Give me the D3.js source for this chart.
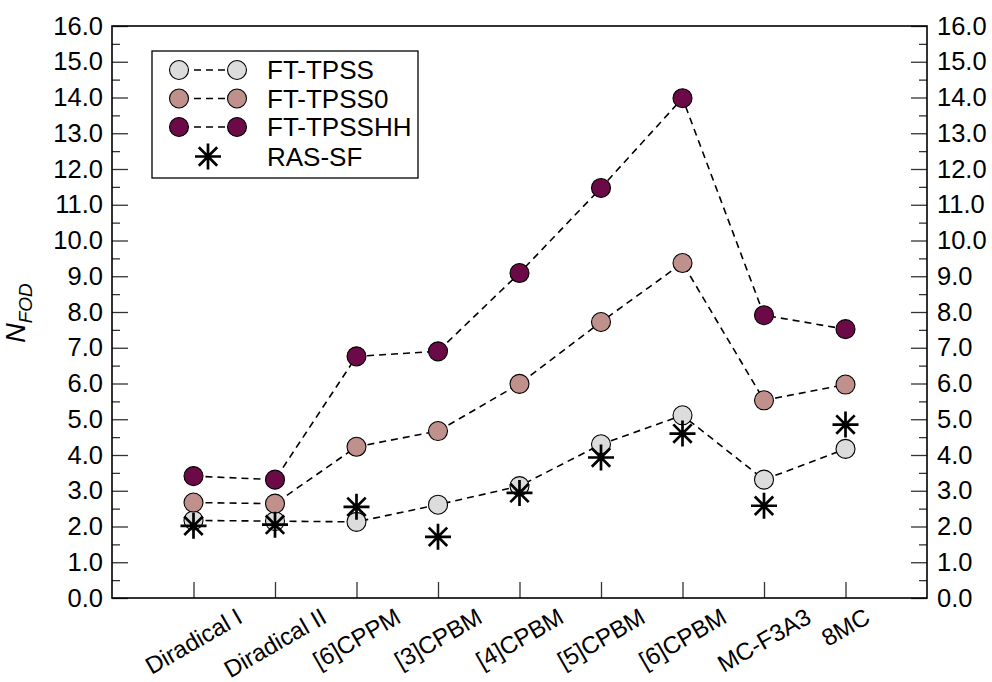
<!DOCTYPE html>
<html>
<head>
<meta charset="utf-8">
<script src="https://cdn.jsdelivr.net/npm/d3@7"></script>
<style>
  html, body { margin: 0; padding: 0; background: #fff; }
  svg { display: block; font-family: "Liberation Sans", Arial, sans-serif; }
</style>
</head>
<body>
<svg id="chart" width="992" height="682"></svg>
<script>
const categories = ["Diradical I", "Diradical II", "[6]CPPM", "[3]CPBM", "[4]CPBM", "[5]CPBM", "[6]CPBM", "MC-F3A3", "8MC"];
const ftTPSS   = [2.17, 2.15, 2.13, 2.61, 3.13, 4.30, 5.11, 3.31, 4.17];
const ftTPSS0  = [2.67, 2.64, 4.23, 4.67, 5.99, 7.72, 9.37, 5.53, 5.97];
const ftTPSSHH = [3.41, 3.31, 6.76, 6.90, 9.09, 11.47, 13.98, 7.91, 7.52];
const rasSF    = [2.02, 2.05, 2.55, 1.71, 2.94, 3.93, 4.60, 2.58, 4.85];
const yTicks = d3.range(0, 16.01, 1);
const yMinorTicks = d3.range(0.5, 16, 1);
const seriesNames = ["FT-TPSS", "FT-TPSS0", "FT-TPSSHH", "RAS-SF"];
const seriesColors = ["#dcdcdc", "#c0908c", "#6b0a47"];

const svg = d3.select("#chart");
const L = 112, R = 927, T = 26, B = 598;
const x = d3.scaleLinear().domain([0, categories.length + 1]).range([L, R]);
const y = d3.scaleLinear().domain([0, 16]).range([B, T]);
const fmt = d3.format(".1f");

// Axes
const tickColor = "#333";
function styleAxis(g) {
  g.select(".domain").remove();
  g.selectAll(".tick line").attr("stroke", tickColor).attr("stroke-width", 1.3);
  g.selectAll(".tick text").attr("fill", "#000").style("font-size", "25.5px");
}
svg.append("g").attr("transform", `translate(${L},0)`)
  .call(d3.axisLeft(y).tickValues(yTicks).tickFormat(fmt).tickSize(-16).tickPadding(9))
  .call(styleAxis);
svg.append("g").attr("transform", `translate(${L},0)`)
  .call(d3.axisLeft(y).tickValues(yMinorTicks).tickFormat("").tickSize(-8))
  .call(styleAxis);
svg.append("g").attr("transform", `translate(${R},0)`)
  .call(d3.axisRight(y).tickValues(yTicks).tickFormat(fmt).tickSize(-16).tickPadding(10))
  .call(styleAxis);
svg.append("g").attr("transform", `translate(${R},0)`)
  .call(d3.axisRight(y).tickValues(yMinorTicks).tickFormat("").tickSize(-8))
  .call(styleAxis);
const xAxisG = svg.append("g").attr("transform", `translate(0,${B})`)
  .call(d3.axisBottom(x).tickValues(categories.map((d, i) => i + 1)).tickFormat("").tickSize(-16))
  .call(styleAxis);

// X labels rotated, bbox top-centered on ticks
const angle = 30;
const rad = angle * Math.PI / 180;
const labG = svg.append("g");
categories.forEach((c, i) => {
  const t = labG.append("text")
    .text(c)
    .attr("text-anchor", "middle")
    .attr("dominant-baseline", "central")
    .style("font-size", "24px")
    .attr("fill", "#000");
  const len = t.node().getComputedTextLength();
  const h = 17;
  const bh = len * Math.sin(rad) + h * Math.cos(rad);
  const cx = x(i + 1), cy = 607 + bh / 2;
  t.attr("transform", `translate(${cx},${cy}) rotate(${-angle})`);
});

// Frame
svg.append("rect").attr("x", L).attr("y", T).attr("width", R - L).attr("height", B - T)
  .attr("fill", "none").attr("stroke", "#000").attr("stroke-width", 1.6);

// Y label
const yl = svg.append("text")
  .attr("transform", "translate(25,313) rotate(-90)")
  .attr("text-anchor", "middle")
  .style("font-style", "italic")
  .attr("fill", "#000");
yl.append("tspan").text("N").style("font-size", "27px");
yl.append("tspan").text("FOD").style("font-size", "19px").attr("dy", 7);

// Lines + circle markers
const circleSeries = [ftTPSS, ftTPSS0, ftTPSSHH];
const line = d3.line().x((d, i) => x(i + 1)).y(d => y(d));
circleSeries.forEach((s, k) => {
  svg.append("path").datum(s).attr("d", line)
    .attr("fill", "none").attr("stroke", "#000").attr("stroke-width", 1.6)
    .attr("stroke-dasharray", "7,5");
});
circleSeries.forEach((s, k) => {
  svg.append("g").selectAll("circle").data(s).join("circle")
    .attr("cx", (d, i) => x(i + 1)).attr("cy", d => y(d)).attr("r", 9.5)
    .attr("fill", seriesColors[k]).attr("stroke", "#000").attr("stroke-width", 1.1);
});

// Asterisk markers
function asterisk(g, cx, cy) {
  const a = 13, d = 9.2;
  const p = `M${cx - a},${cy}H${cx + a}M${cx},${cy - a}V${cy + a}M${cx - d},${cy - d}L${cx + d},${cy + d}M${cx - d},${cy + d}L${cx + d},${cy - d}`;
  g.append("path").attr("d", p).attr("stroke", "#000").attr("stroke-width", 2.7).attr("fill", "none");
}
const astG = svg.append("g");
rasSF.forEach((v, i) => asterisk(astG, x(i + 1), y(v)));

// Legend
const lg = svg.append("g");
lg.append("rect").attr("x", 152).attr("y", 51).attr("width", 266).attr("height", 127)
  .attr("fill", "#fff").attr("stroke", "#000").attr("stroke-width", 1.3);
const rowY = [70, 98.5, 127, 156.5];
seriesNames.forEach((n, k) => {
  const ry = rowY[k];
  if (k < 3) {
    lg.append("line").attr("x1", 179).attr("x2", 237).attr("y1", ry).attr("y2", ry)
      .attr("stroke", "#000").attr("stroke-width", 1.6).attr("stroke-dasharray", "7,5").attr("stroke-dashoffset", -3);
    [179, 237].forEach(cx => lg.append("circle").attr("cx", cx).attr("cy", ry).attr("r", 9.5)
      .attr("fill", seriesColors[k]).attr("stroke", "#000").attr("stroke-width", 1.1));
  } else {
    asterisk(lg, 208, ry);
  }
  lg.append("text").attr("x", 267).attr("y", ry).attr("dominant-baseline", "central")
    .style("font-size", "26px").attr("fill", "#000").text(n);
});
</script>
</body>
</html>
